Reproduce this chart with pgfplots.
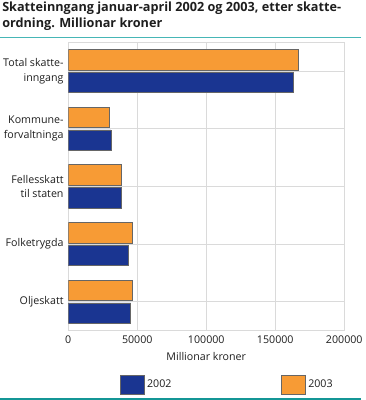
\documentclass[border=0pt]{standalone}
\usepackage{pgfplots}
\pgfplotsset{compat=1.18}
\usepackage{fontspec}
\setmainfont{Open Sans}
\definecolor{cblue}{RGB}{26,53,145}
\definecolor{corange}{RGB}{247,155,53}
\definecolor{tealA}{RGB}{70,182,182}
\definecolor{tealB}{RGB}{20,150,150}
\definecolor{gridc}{RGB}{218,218,218}
\definecolor{txt}{RGB}{30,30,30}
\begin{document}
\begin{tikzpicture}
\useasboundingbox (-51.2pt,-52pt) rectangle (222.55pt,248pt);
\begin{axis}[
  at={(0,0)}, anchor=south west,
  scale only axis, width=207pt, height=216.3pt,
  xbar, y dir=reverse,
  xmin=0, xmax=200000,
  ymin=-0.5, ymax=4.5,
  xtick={0,50000,100000,150000,200000},
  scaled x ticks=false,
  /pgf/number format/fixed,
  /pgf/number format/1000 sep={},
  /pgf/number format/assume math mode=true,
  ytick={0,1,2,3,4},
  yticklabels={Total skatte-\\inngang, Kommune-\\forvaltninga, Fellesskatt\\til staten, Folketrygda, Oljeskatt},
  yticklabel style={align=right, font=\fontsize{8}{11}\selectfont, text=txt},
  xticklabel style={font=\fontsize{8}{10}\selectfont, text=txt},
  xlabel={Millionar kroner},
  xlabel style={font=\fontsize{8}{10}\selectfont, text=txt},
  major tick length=0pt,
  grid=major, grid style={gridc, line width=0.8pt},
  axis line style={gridc, line width=0.8pt},
  bar width=0.355,
  legend columns=2,
  legend style={at={(0.185,-0.187)}, anchor=west, draw=none, inner sep=0pt,
    font=\fontsize{8}{10}\selectfont, text=txt,
    /tikz/every even column/.append style={column sep=80pt}},
  legend image code/.code={\draw[#1] (0pt,-7.2pt) rectangle (18pt,7.2pt);},
]
\addplot[fill=cblue, draw=black!60, line width=0.6pt, bar shift=0.197] coordinates {
 (163000,0) (30900,1) (38200,2) (43500,3) (45200,4)};
\addplot[fill=corange, draw=black!60, line width=0.6pt, bar shift=-0.197] coordinates {
 (166700,0) (29700,1) (38400,2) (46400,3) (46400,4)};
\legend{2002,2003}
\end{axis}
\node[anchor=base west, inner sep=0pt, font=\bfseries\fontsize{9.5}{11.6}\selectfont, text=txt] at (-49.7pt,239pt) {Skatteinngang januar-april 2002 og 2003, etter skatte-};
\node[anchor=base west, inner sep=0pt, font=\bfseries\fontsize{9.5}{11.6}\selectfont, text=txt] at (-49.7pt,227.4pt) {ordning. Millionar kroner};
\draw[tealA, line width=1pt] (-51.2pt,219.9pt) -- (219.5pt,219.9pt);
\draw[tealB, line width=1.2pt] (-51.2pt,-51.2pt) -- (219.5pt,-51.2pt);
\end{tikzpicture}
\end{document}
